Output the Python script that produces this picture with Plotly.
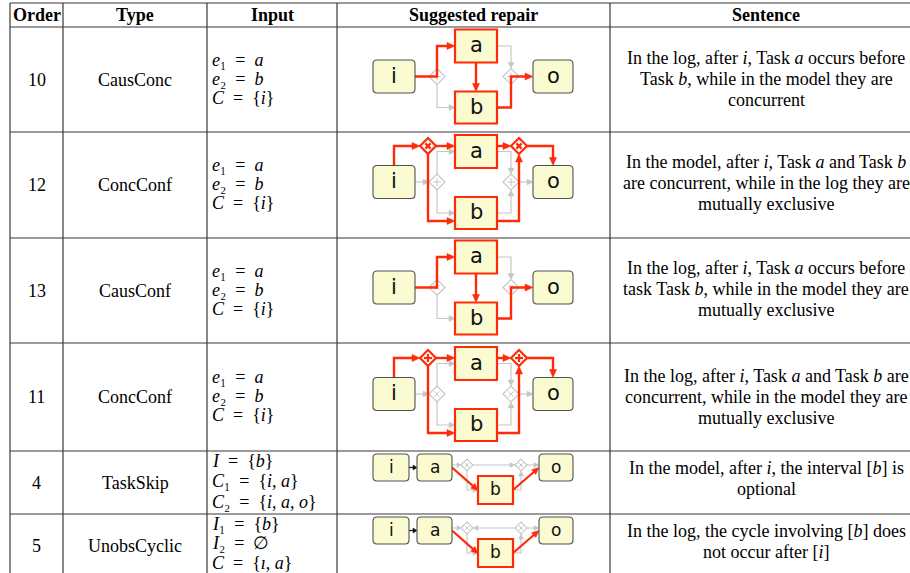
import plotly.graph_objects as go

# ---------------- data ----------------
headers = ["Order", "Type", "Input", "Suggested repair", "Sentence"]
orders = ["10", "12", "13", "11", "4", "5"]
types = ["CausConc", "ConcConf", "CausConf", "ConcConf", "TaskSkip", "UnobsCyclic"]
inputs = [
    ["<i>e</i>\u2081\u2002=\u2002<i>a</i>", "<i>e</i>\u2082\u2002=\u2002<i>b</i>", "<i>C</i>\u2002=\u2002{<i>i</i>}"],
    ["<i>e</i>\u2081\u2002=\u2002<i>a</i>", "<i>e</i>\u2082\u2002=\u2002<i>b</i>", "<i>C</i>\u2002=\u2002{<i>i</i>}"],
    ["<i>e</i>\u2081\u2002=\u2002<i>a</i>", "<i>e</i>\u2082\u2002=\u2002<i>b</i>", "<i>C</i>\u2002=\u2002{<i>i</i>}"],
    ["<i>e</i>\u2081\u2002=\u2002<i>a</i>", "<i>e</i>\u2082\u2002=\u2002<i>b</i>", "<i>C</i>\u2002=\u2002{<i>i</i>}"],
    ["<i>I</i>\u2002=\u2002{<i>b</i>}", "<i>C</i>\u2081\u2002=\u2002{<i>i</i>, <i>a</i>}", "<i>C</i>\u2082\u2002=\u2002{<i>i</i>, <i>a</i>, <i>o</i>}"],
    ["<i>I</i>\u2081\u2002=\u2002{<i>b</i>}", "<i>I</i>\u2082\u2002=\u2002\u2205", "<i>C</i>\u2002=\u2002{<i>\u0131</i>, <i>a</i>}"],
]
sentences = [
    ["In the log, after <i>i</i>, Task <i>a</i> occurs before", "Task <i>b</i>, while in the model they are", "concurrent"],
    ["In the model, after <i>i</i>, Task <i>a</i> and Task <i>b</i>", "are concurrent, while in the log they are", "mutually exclusive"],
    ["In the log, after <i>i</i>, Task <i>a</i> occurs before", "task Task <i>b</i>, while in the model they are", "mutually exclusive"],
    ["In the log, after <i>i</i>, Task <i>a</i> and Task <i>b</i> are", "concurrent, while in the model they are", "mutually exclusive"],
    ["In the model, after <i>i</i>, the interval [<i>b</i>] is", "optional"],
    ["In the log, the cycle involving [<i>b</i>] does", "not occur after [<i>i</i>]"],
]
node_labels = ["i", "a", "b", "o"]
# diagram kind per row: (pattern, model gateway symbol, repair gateway symbol)
diagrams = [("seq", "+", None), ("split", "+", "x"), ("seq", "x", None),
            ("split", "x", "+"), ("skip", "x", None), ("cycle", "x", None)]

# ---------------- layout constants ----------------
W, H = 910, 573
col_edges = [10, 63, 207, 337, 610, 922]
row_edges = [3, 27, 132, 238, 343, 451, 514, 577]
input_y = [(-20, 19), (-20, 19), (-20, 19), (-20, 19), (-22, 20.5), (-22, 19.5)]
sent_dy = [-1, -2, -1.5, 0, -4, -4]
SENT_STEP = 21
FS = 18

LINE = "#383838"
RED = "#ff2a08"
GRAY = "#c6c6c6"
BOXLINE = "#505050"
FILL = "#fbfbd2"
SERIF = "Liberation Serif"
SANS = "DejaVu Sans"

shapes = []
annotations = []


def line_shape(x0, y0, x1, y1, color=LINE, width=1.2):
    shapes.append(dict(type="line", xref="x", yref="y", x0=x0, y0=y0, x1=x1, y1=y1,
                       line=dict(color=color, width=width)))


def path_shape(path, color, width, fill=None):
    d = dict(type="path", xref="x", yref="y", path=path, line=dict(color=color, width=width))
    d["fillcolor"] = fill if fill is not None else "rgba(0,0,0,0)"
    shapes.append(d)


def rrect(x0, y0, x1, y1, r):
    return (f"M{x0+r},{y0} L{x1-r},{y0} Q{x1},{y0} {x1},{y0+r} L{x1},{y1-r} Q{x1},{y1} {x1-r},{y1} "
            f"L{x0+r},{y1} Q{x0},{y1} {x0},{y1-r} L{x0},{y0+r} Q{x0},{y0} {x0+r},{y0} Z")


def edge(pts, color, width, alen, awid):
    # polyline with filled arrowhead at the last point
    (px, py), (tx, ty) = pts[-2], pts[-1]
    dx, dy = tx - px, ty - py
    n = (dx * dx + dy * dy) ** 0.5
    ux, uy = dx / n, dy / n
    bx, by = tx - ux * alen, ty - uy * alen
    body = pts[:-1] + [(bx + ux * 0.5, by + uy * 0.5)]
    p = "M" + " L".join(f"{x},{y}" for x, y in body)
    path_shape(p, color, width)
    wx, wy = -uy * awid, ux * awid
    tri = f"M{tx},{ty} L{bx+wx},{by+wy} L{bx-wx},{by-wy} Z"
    path_shape(tri, color, 0.5, fill=color)


def gateway(cx, cy, h, sym, color, width, sym_width):
    path_shape(f"M{cx-h},{cy} L{cx},{cy-h} L{cx+h},{cy} L{cx},{cy+h} Z", color, width, fill="white")
    if sym == "+":
        k = h * 0.5
        line_shape(cx - k, cy, cx + k, cy, color, sym_width)
        line_shape(cx, cy - k, cx, cy + k, color, sym_width)
    else:
        k = h * 0.33
        line_shape(cx - k, cy - k, cx + k, cy + k, color, sym_width)
        line_shape(cx - k, cy + k, cx + k, cy - k, color, sym_width)


def box(x0, y0, x1, y1, label, red, size):
    if red:
        path_shape(f"M{x0},{y0} L{x1},{y0} L{x1},{y1} L{x0},{y1} Z", RED, 2.2, fill=FILL)
    else:
        path_shape(rrect(x0, y0, x1, y1, 4), BOXLINE, 1.1, fill=FILL)
    annotations.append(dict(x=(x0 + x1) / 2, y=(y0 + y1) / 2 - 1, xref="x", yref="y", text=label,
                            showarrow=False, xanchor="center", yanchor="middle",
                            font=dict(family=SANS, size=size, color="#111")))


def big_diagram(y0, pattern, msym, rsym):
    m = y0 - 3
    aY = y0 - 33.5
    bY = y0 + 28
    gL, gR = 437, 511
    if pattern == "seq":
        edge([(gL, m + 8), (gL, bY), (455, bY)], GRAY, 1.2, 6, 3)
        edge([(497, aY), (gR, aY), (gR, m - 8)], GRAY, 1.2, 6, 3)
    else:
        edge([(415, m), (gL - 8, m)], GRAY, 1.2, 6, 3)
        edge([(gL, m - 8), (gL, aY), (455, aY)], GRAY, 1.2, 6, 3)
        edge([(gL, m + 8), (gL, bY), (455, bY)], GRAY, 1.2, 6, 3)
        edge([(497, aY), (gR, aY), (gR, m - 8)], GRAY, 1.2, 6, 3)
        edge([(497, bY), (gR, bY), (gR, m + 8)], GRAY, 1.2, 6, 3)
        edge([(gR + 8, m), (533, m)], GRAY, 1.2, 6, 3)
    gateway(gL, m, 8, msym, GRAY, 1.2, 1.0)
    gateway(gR, m, 8, msym, GRAY, 1.2, 1.0)
    if pattern == "seq":
        edge([(415, m), (gL, m), (gL, aY), (455, aY)], RED, 2.4, 8, 3.5)
        edge([(476, aY + 16.5), (476, bY - 16)], RED, 2.4, 8, 3.5)
        edge([(497, bY), (gR, bY), (gR, m), (533, m)], RED, 2.4, 8, 3.5)
    else:
        rY = y0 - 39
        rL, rR = 428, 519
        edge([(394, m - 16.5), (394, rY), (rL - 8, rY)], RED, 2.4, 8, 3.5)
        edge([(rL + 8, rY), (455, rY)], RED, 2.4, 8, 3.5)
        edge([(rL, rY + 8), (rL, bY + 8), (455, bY + 8)], RED, 2.4, 8, 3.5)
        edge([(497, rY), (rR - 8, rY)], RED, 2.4, 8, 3.5)
        edge([(497, bY + 8), (rR, bY + 8), (rR, rY + 8)], RED, 2.4, 8, 3.5)
        edge([(rR + 8, rY), (553, rY), (553, m - 16.5)], RED, 2.4, 8, 3.5)
        gateway(rL, rY, 8, rsym, RED, 2.2, 2.2)
        gateway(rR, rY, 8, rsym, RED, 2.2, 2.2)
    box(373, m - 16.5, 415, m + 16.5, node_labels[0], False, 21)
    box(455, aY - 16.5, 497, aY + 16.5, node_labels[1], True, 21)
    box(455, bY - 16, 497, bY + 16, node_labels[2], True, 21)
    box(533, m - 16.5, 573, m + 16.5, node_labels[3], False, 21)


def small_diagram(y0, pattern):
    m = y0 - 15
    g = y0 - 17.5
    bY = y0 + 7.5
    g1, g2 = 467, 521
    edge([(409, m), (417, m)], "#111", 1.2, 4, 2.5)
    edge([(452, g), (g1 - 6, g)], GRAY, 1.1, 4, 2.5)
    if pattern == "skip":
        edge([(g1 + 6, g), (g2 - 6, g)], GRAY, 1.1, 5, 2.5)
    else:
        edge([(g2 - 6, g), (g1 + 6, g)], GRAY, 1.1, 5, 2.5)
    edge([(g1, g + 6), (g1, bY), (478, bY)], GRAY, 1.1, 5, 2.5)
    edge([(513, bY), (g2, bY), (g2, g + 6)], GRAY, 1.1, 5, 2.5)
    edge([(g2 + 6, g), (539, g)], GRAY, 1.1, 5, 2.5)
    gateway(g1, g, 6, "x", GRAY, 1.1, 1.0)
    gateway(g2, g, 6, "x", GRAY, 1.1, 1.0)
    edge([(452, m), (478, bY + 0.5)], RED, 2.2, 7, 3.2)
    edge([(513, bY), (539, m)], RED, 2.2, 7, 3.2)
    box(373, m - 13.5, 409, m + 13.5, node_labels[0], False, 17)
    box(417, m - 13.5, 452, m + 13.5, node_labels[1], False, 17)
    box(478, bY - 14, 513, bY + 14, node_labels[2], True, 17)
    box(539, m - 13.5, 573, m + 13.5, node_labels[3], False, 17)


def txt(x, y, text, xanchor="center", size=FS):
    annotations.append(dict(x=x, y=y, xref="x", yref="y", text=text, showarrow=False,
                            xanchor=xanchor, yanchor="middle",
                            font=dict(family=SERIF, size=size, color="black")))


# ---------------- table grid ----------------
for y in row_edges[:-1]:
    line_shape(col_edges[0], y, W + 20, y)
for x in col_edges[:-1]:
    line_shape(x, row_edges[0], x, H + 20)

for j, h in enumerate(headers):
    txt((col_edges[j] + col_edges[j + 1]) / 2, (row_edges[0] + row_edges[1]) / 2, f"<b>{h}</b>")

for r in range(len(orders)):
    top, bot = row_edges[r + 1], row_edges[r + 2]
    yc = (top + bot) / 2
    txt((col_edges[0] + col_edges[1]) / 2, yc, orders[r])
    txt((col_edges[1] + col_edges[2]) / 2, yc, types[r])
    off, step = input_y[r]
    for k, s in enumerate(inputs[r]):
        txt(col_edges[2] + 3, yc + off + k * step, s, xanchor="left")
    lines = sentences[r]
    n = len(lines)
    for k, s in enumerate(lines):
        txt((col_edges[4] + col_edges[5]) / 2, yc + sent_dy[r] + (k - (n - 1) / 2) * SENT_STEP, s)
    pat, msym, rsym = diagrams[r]
    if pat in ("seq", "split"):
        big_diagram(yc, pat, msym, rsym)
    else:
        small_diagram(yc, pat)

fig = go.Figure()
fig.update_layout(
    width=W, height=H, margin=dict(l=0, r=0, t=0, b=0),
    paper_bgcolor="white", plot_bgcolor="white",
    xaxis=dict(range=[0, W], visible=False, fixedrange=True),
    yaxis=dict(range=[H, 0], visible=False, fixedrange=True),
    shapes=shapes, annotations=annotations, showlegend=False,
)
fig.write_html("out.html", config={"displayModeBar": False},
               post_script="document.body.style.margin='0';document.body.style.overflow='hidden';")
